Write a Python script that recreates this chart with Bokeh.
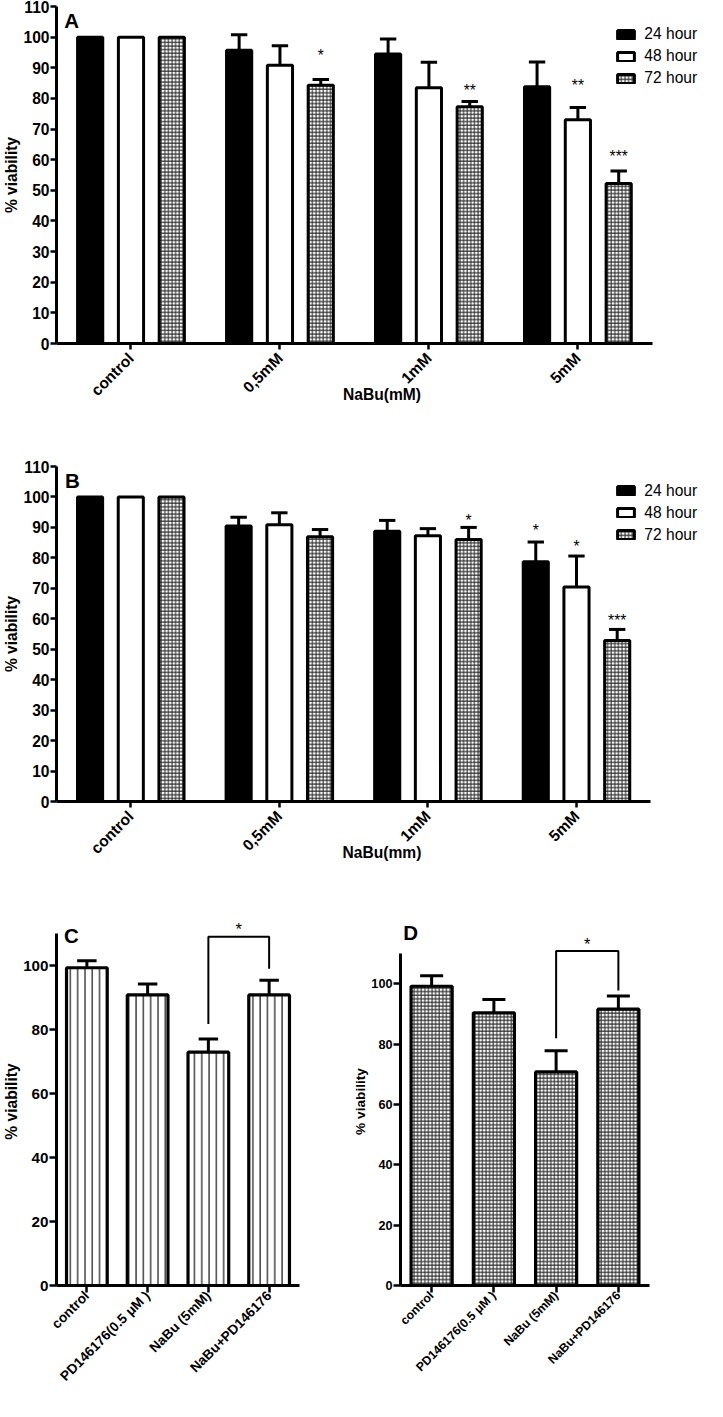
import math
from bokeh.plotting import figure
from bokeh.models import FixedTicker, Legend, LegendItem, Label, Range1d
from bokeh.layouts import column, row
from bokeh.embed import file_html
from bokeh.resources import INLINE
from bokeh.core.properties import value

SX = 707 / 723
SY = 1401 / 1417
FONT = "Liberation Sans"


def zx(v):
    return v * SX


def zy(v):
    return v * SY


def fs(v):
    return f"{v * SX:.1f}px"


# ---------------- data ----------------
doses = ["control", "0,5mM", "1mM", "5mM"]
hours = ["24 hour", "48 hour", "72 hour"]

a_24 = [100, 95.7, 94.5, 83.8]
a_24_sem = [0, 5.1, 4.9, 8.1]
a_48 = [100, 90.8, 83.5, 73.0]
a_48_sem = [0, 6.4, 8.3, 4.0]
a_72 = [100, 84.3, 77.3, 52.2]
a_72_sem = [0, 1.9, 1.7, 4.1]
a_sig_dose = ["0,5mM", "1mM", "5mM", "5mM"]
a_sig_hour = ["72 hour", "72 hour", "48 hour", "72 hour"]
a_sig_text = ["*", "**", "**", "***"]
a_sig_y = [95.3, 83.7, 85.4, 62.3]

b_24 = [100, 90.5, 88.7, 78.7]
b_24_sem = [0, 2.8, 3.6, 6.5]
b_48 = [100, 90.9, 87.3, 70.4]
b_48_sem = [0, 3.9, 2.3, 10.2]
b_72 = [100, 86.9, 86.0, 52.9]
b_72_sem = [0, 2.4, 4.0, 3.6]
b_sig_dose = ["1mM", "5mM", "5mM", "5mM"]
b_sig_hour = ["72 hour", "24 hour", "48 hour", "72 hour"]
b_sig_text = ["*", "*", "*", "***"]
b_sig_y = [93.3, 90.0, 85.0, 60.6]

cd_groups = ["control", "PD146176(0.5 \u03bcM )", "NaBu (5mM)", "NaBu+PD146176"]
c_vals = [99.3, 90.8, 72.9, 90.8]
c_sem = [2.2, 3.4, 4.1, 4.6]
c_bracket = [81.7, 109.0, 99.0]     # left start, top, right end
c_star_y = 112.3
d_vals = [99.2, 90.4, 70.8, 91.6]
d_sem = [3.5, 4.4, 7.0, 4.4]
d_bracket = [82.0, 110.9, 97.8]
d_star_y = 114.2

y_ticks_ab = [0, 10, 20, 30, 40, 50, 60, 70, 80, 90, 100, 110]
y_ticks_cd = [0, 20, 40, 60, 80, 100]


# ---------------- helpers ----------------
def make_fig(w, h, bl, br, bt, bb, xmax, ymax):
    p = figure(width=round(zx(w)), height=round(zy(h)),
               x_range=Range1d(0, xmax), y_range=Range1d(0, ymax),
               output_backend="svg", toolbar_location=None,
               min_border_left=round(zx(bl)), min_border_right=round(zx(br)),
               min_border_top=round(zy(bt)), min_border_bottom=round(zy(bb)))
    p.xgrid.visible = False
    p.ygrid.visible = False
    p.outline_line_color = None
    p.background_fill_color = "white"
    p.border_fill_color = "white"
    return p


def style_axes(p, tick_fs, lab_fs, xlab_fs, yticks, xlabels, tick_len=6, xstand=6):
    for ax in (p.xaxis[0], p.yaxis[0]):
        ax.axis_line_width = 3
        ax.axis_line_color = "black"
        ax.major_tick_line_width = 2.5
        ax.major_tick_line_color = "black"
        ax.major_tick_out = round(tick_len)
        ax.major_tick_in = 0
        ax.minor_tick_out = 0
        ax.minor_tick_in = 0
        ax.major_label_text_font = FONT
        ax.major_label_text_font_style = "bold"
        ax.major_label_text_color = "black"
        ax.axis_label_text_font = FONT
        ax.axis_label_text_font_style = "bold"
        ax.axis_label_text_font_size = fs(lab_fs)
        ax.axis_label_text_color = "black"
    ya = p.yaxis[0]
    ya.ticker = FixedTicker(ticks=yticks)
    ya.major_label_text_font_size = fs(tick_fs)
    ya.major_label_standoff = 1
    ya.axis_label_standoff = 0
    ya.axis_label = "% viability"
    xa = p.xaxis[0]
    n = len(xlabels)
    centers = [i + 0.5 for i in range(n)]
    xa.bounds = (0, n)
    xa.ticker = FixedTicker(ticks=centers)
    xa.major_label_overrides = {c: lab for c, lab in zip(centers, xlabels)}
    xa.major_label_text_font_size = fs(xlab_fs)
    xa.major_label_orientation = math.pi / 4
    xa.major_label_standoff = round(xstand)


def grouped_panel(p, series, sems, sig, cap_half, bw, offs, legend_loc):
    fills = ["black", "white", "white"]
    hatch = [None, None, "+"]
    renderers = []
    for k, (vals, sem) in enumerate(zip(series, sems)):
        xs = [i + 0.5 + offs[k] for i in range(len(vals))]
        kw = {}
        if hatch[k]:
            kw = dict(hatch_pattern=hatch[k], hatch_scale=3.6, hatch_weight=1.0,
                      hatch_color="#222222")
        r = p.vbar(x=xs, top=vals, width=bw, bottom=0, fill_color=fills[k],
                   line_color="black", line_width=3, **kw)
        renderers.append(r)
        ex = [x for x, s in zip(xs, sem) if s > 0]
        ev = [v for v, s in zip(vals, sem) if s > 0]
        et = [v + s for v, s in zip(vals, sem) if s > 0]
        p.segment(x0=ex, y0=ev, x1=ex, y1=et, line_color="black", line_width=3)
        p.segment(x0=[x - cap_half for x in ex], y0=et, x1=[x + cap_half for x in ex],
                  y1=et, line_color="black", line_width=3)
    sd, sh, st, sy = sig
    sx = [doses.index(d) + 0.5 + offs[hours.index(h)] for d, h in zip(sd, sh)]
    p.text(x=sx, y=sy, text=st, text_align="center", text_baseline="middle",
           text_font=value(FONT), text_font_size=fs(16), text_color="black",
           y_offset=3.5)
    leg = Legend(items=[LegendItem(label=h, renderers=[r]) for h, r in zip(hours, renderers)],
                 location=legend_loc)
    leg.background_fill_alpha = 0
    leg.border_line_alpha = 0
    leg.padding = 0
    leg.margin = 0
    leg.spacing = 0
    leg.glyph_width = round(zx(21))
    leg.glyph_height = round(zy(11))
    leg.label_height = round(zy(22))
    leg.label_standoff = round(zx(8))
    leg.label_text_font = FONT
    leg.label_text_font_size = fs(16)
    leg.label_text_color = "black"
    p.add_layout(leg)


# ---------------- panel A ----------------
# frame: ref x 50 -> 723 (axis stops at 666), y 6.5 -> 346.5
pa = make_fig(723, 455, 50, 0, 6.5, 108.5, 4 + 57 / 154, 110)
style_axes(pa, 16, 16, 16, y_ticks_ab, doses)
pa.xaxis[0].axis_label = "NaBu(mM)"
pa.xaxis[0].axis_label_standoff = -22
grouped_panel(pa, [a_24, a_48, a_72], [a_24_sem, a_48_sem, a_72_sem],
              (a_sig_dose, a_sig_hour, a_sig_text, a_sig_y),
              cap_half=0.055, bw=0.169, offs=[-0.274, 0, 0.274],
              legend_loc=(zx(572), zy(256.5)))
pa.add_layout(Label(x=0.052, y=110, text="A", text_font=FONT, text_font_style="bold",
                    text_font_size=fs(21), text_baseline="top", y_offset=-2,
                    text_color="black"))

# ---------------- panel B ----------------
pb = make_fig(723, 425, 46, 0, 16, 70, 4 + 59 / 154.5, 110)
style_axes(pb, 16, 16, 16, y_ticks_ab, doses)
pb.xaxis[0].axis_label = "NaBu(mm)"
pb.xaxis[0].axis_label_standoff = -22
grouped_panel(pb, [b_24, b_48, b_72], [b_24_sem, b_48_sem, b_72_sem],
              (b_sig_dose, b_sig_hour, b_sig_text, b_sig_y),
              cap_half=0.055, bw=0.169, offs=[-0.274, 0, 0.274],
              legend_loc=(zx(572), zy(258)))
pb.add_layout(Label(x=0.058, y=110, text="B", text_font=FONT, text_font_style="bold",
                    text_font_size=fs(21), text_baseline="top", y_offset=-2,
                    text_color="black"))


# ---------------- panels C, D ----------------
def single_panel(p, vals, sem, bw, cap_half, hatch_kw, bracket, star_y):
    xs = [i + 0.5 for i in range(len(vals))]
    p.vbar(x=xs, top=vals, width=bw, bottom=0, fill_color="white",
           line_color="black", line_width=3.2, **hatch_kw)
    et = [v + s for v, s in zip(vals, sem)]
    p.segment(x0=xs, y0=vals, x1=xs, y1=et, line_color="black", line_width=3)
    p.segment(x0=[x - cap_half for x in xs], y0=et, x1=[x + cap_half for x in xs],
              y1=et, line_color="black", line_width=3)
    xl, xr = xs[2], xs[3]
    p.line(x=[xl, xl, xr, xr], y=[bracket[0], bracket[1], bracket[1], bracket[2]],
           line_color="black", line_width=2)
    p.text(x=[(xl + xr) / 2], y=[star_y], text=["*"], text_align="center",
           text_baseline="middle", text_font=value(FONT), text_font_size=fs(17),
           text_color="black", y_offset=3.5)


pc = make_fig(358, 537, 50, 52, 44.3, 117, 4, 115)
style_axes(pc, 15.5, 16, 14, y_ticks_cd, cd_groups, tick_len=7, xstand=1)
pc.yaxis[0].bounds = (0, 110)
single_panel(pc, c_vals, c_sem, bw=0.67, cap_half=0.16,
             hatch_kw=dict(hatch_pattern="|", hatch_scale=7.3, hatch_weight=1.1,
                           hatch_color="black"),
             bracket=c_bracket, star_y=c_star_y)
pc.add_layout(Label(x=0.125, y=112.9, text="C", text_font=FONT, text_font_style="bold",
                    text_font_size=fs(21), text_baseline="top", text_color="black"))

pd_ = make_fig(365, 537, 47, 59, 47.9, 117, 4, 122)
style_axes(pd_, 13, 14, 12.5, y_ticks_cd, cd_groups, tick_len=7, xstand=1)
pd_.yaxis[0].bounds = (0, 110)
single_panel(pd_, d_vals, d_sem, bw=0.66, cap_half=0.185,
             hatch_kw=dict(hatch_pattern="+", hatch_scale=3.6, hatch_weight=1.0,
                           hatch_color="#222222"),
             bracket=d_bracket, star_y=d_star_y)
pd_.add_layout(Label(x=0.046, y=121, text="D", text_font=FONT, text_font_style="bold",
                     text_font_size=fs(21), text_baseline="top", text_color="black"))

layout = column(pa, pb, row(pc, pd_))
open("out.html", "w").write(file_html(layout, INLINE))
